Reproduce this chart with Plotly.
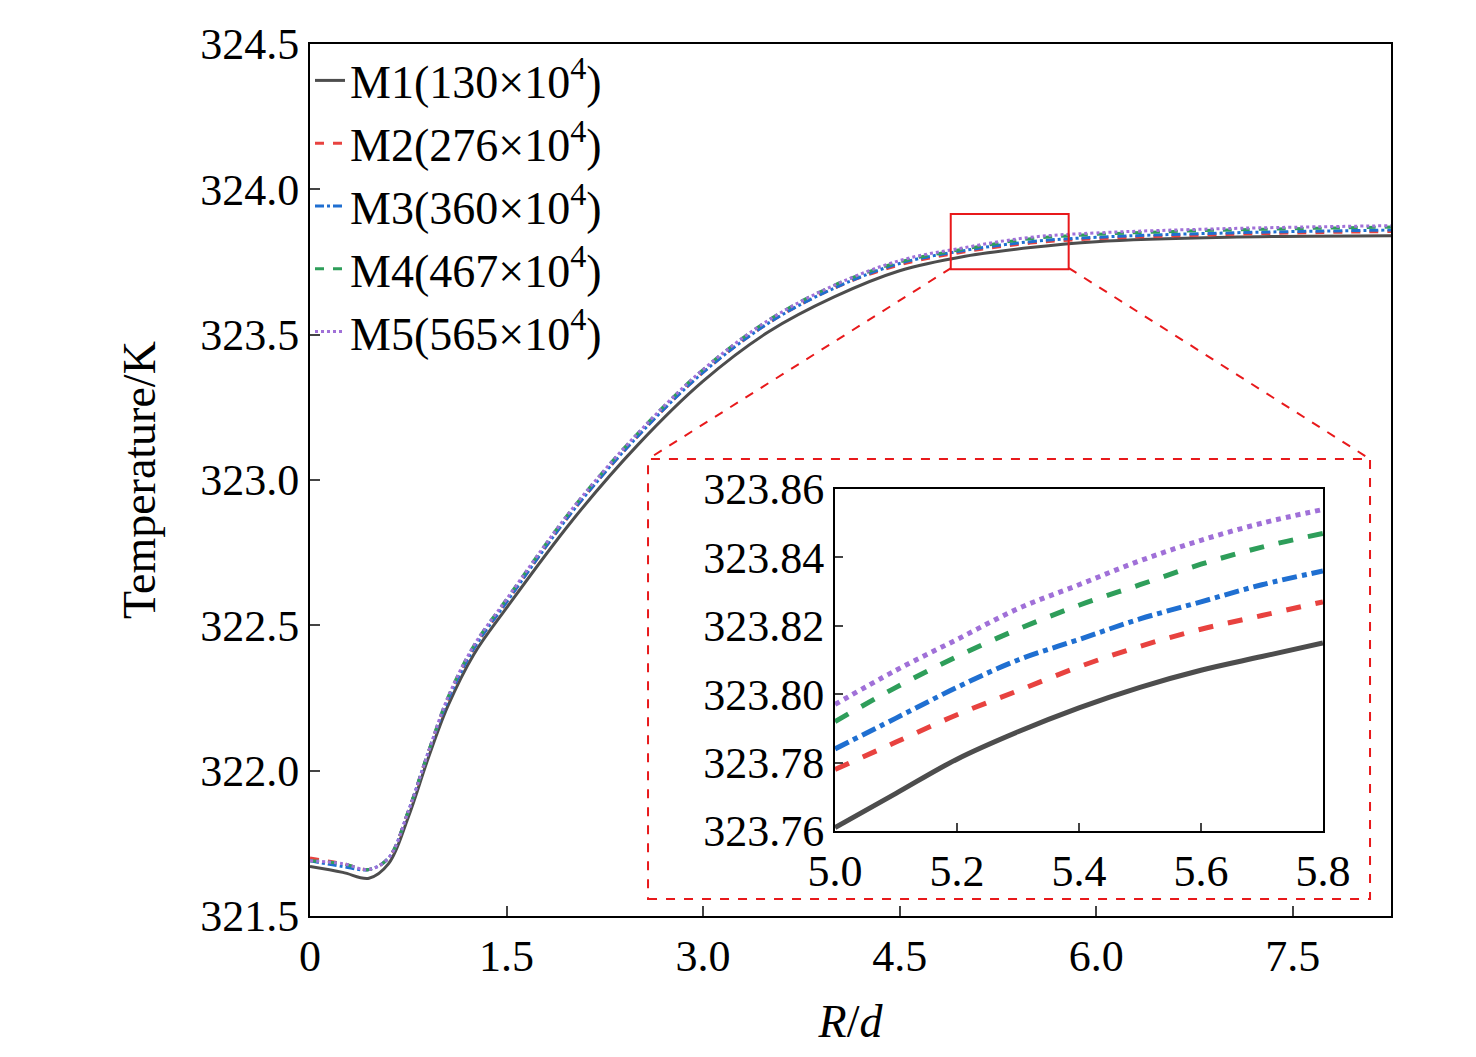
import plotly.graph_objects as go

# main plot data (R/d, temperature K)
x_main = [0, 0.25, 0.45, 0.6, 0.75, 0.9, 1.05, 1.25, 1.5, 2.0, 2.5, 3.0, 3.5, 4.0, 4.5, 5.0, 5.5, 6.0, 7.0, 8.25]
t_m1 = [321.67, 321.65, 321.63, 321.68, 321.84, 322.04, 322.22, 322.40, 322.56, 322.86, 323.12, 323.34, 323.51, 323.63, 323.72, 323.77, 323.80, 323.82, 323.835, 323.84]
t_m2 = [321.70, 321.68, 321.66, 321.70, 321.86, 322.06, 322.24, 322.42, 322.58, 322.89, 323.15, 323.37, 323.54, 323.66, 323.74, 323.785, 323.815, 323.83, 323.845, 323.855]
t_m3 = [321.69, 321.67, 321.66, 321.70, 321.86, 322.06, 322.24, 322.42, 322.58, 322.89, 323.15, 323.37, 323.54, 323.66, 323.745, 323.79, 323.82, 323.835, 323.85, 323.86]
t_m4 = [321.69, 321.68, 321.66, 321.70, 321.86, 322.06, 322.25, 322.43, 322.59, 322.90, 323.16, 323.38, 323.55, 323.67, 323.75, 323.795, 323.83, 323.845, 323.86, 323.87]
t_m5 = [321.69, 321.68, 321.66, 321.70, 321.86, 322.06, 322.25, 322.43, 322.59, 322.90, 323.16, 323.38, 323.55, 323.67, 323.755, 323.80, 323.835, 323.85, 323.865, 323.875]

# inset data (5.0 - 5.8)
x_zoom = [5.0, 5.1, 5.2, 5.3, 5.4, 5.5, 5.6, 5.7, 5.8]
z_m1 = [323.761, 323.771, 323.781, 323.789, 323.796, 323.802, 323.807, 323.811, 323.815]
z_m2 = [323.778, 323.786, 323.794, 323.801, 323.808, 323.814, 323.819, 323.823, 323.827]
z_m3 = [323.784, 323.793, 323.802, 323.810, 323.816, 323.822, 323.827, 323.832, 323.836]
z_m4 = [323.792, 323.802, 323.811, 323.819, 323.826, 323.832, 323.838, 323.843, 323.847]
z_m5 = [323.797, 323.807, 323.816, 323.825, 323.832, 323.839, 323.845, 323.850, 323.854]

names = ["M1(130×10<sup>4</sup>)", "M2(276×10<sup>4</sup>)", "M3(360×10<sup>4</sup>)",
         "M4(467×10<sup>4</sup>)", "M5(565×10<sup>4</sup>)"]
colors = ["#4d4d4d", "#e8423f", "#1f6fd1", "#2e9e5a", "#a070d8"]
dashes = ["solid", "dash", "dashdot", "dash", "dot"]

fig = go.Figure()
for name, y, c, d in zip(names, [t_m1, t_m2, t_m3, t_m4, t_m5], colors, dashes):
    fig.add_trace(go.Scatter(x=x_main, y=y, name=name, mode="lines",
                             line=dict(color=c, dash=d, width=3, shape="spline")))
for y, c, d in zip([z_m1, z_m2, z_m3, z_m4, z_m5], colors, dashes):
    fig.add_trace(go.Scatter(x=x_zoom, y=y, mode="lines", showlegend=False, xaxis="x2", yaxis="y2",
                             line=dict(color=c, dash=d, width=5, shape="spline")))

font = dict(family="Liberation Serif", size=44, color="black")
red = "#e8191b"
fig.update_layout(
    width=1476, height=1057, font=font,
    plot_bgcolor="white", paper_bgcolor="white",
    margin=dict(l=302, r=93, t=15, b=149),
    xaxis=dict(range=[0, 8.25], tickvals=[0, 1.5, 3.0, 4.5, 6.0, 7.5],
               ticktext=["0", "1.5", "3.0", "4.5", "6.0", "7.5"],
               ticks="inside", ticklen=10, tickwidth=2, showgrid=False, zeroline=False,
               showline=True, linecolor="black", linewidth=2, mirror=True,
               title=dict(text="<i>R</i>/<i>d</i>", font=dict(size=46), standoff=25)),
    yaxis=dict(range=[321.5, 324.5], dtick=0.5, tickformat=".1f",
               ticks="inside", ticklen=10, tickwidth=2, showgrid=False, zeroline=False,
               showline=True, linecolor="black", linewidth=2, mirror=True,
               title=dict(text="Temperature/K", font=dict(size=46), standoff=30)),
    xaxis2=dict(domain=[0.4857, 0.937], anchor="y2", range=[5.0, 5.8], dtick=0.2, tickformat=".1f",
                ticks="inside", ticklen=8, tickwidth=2, showgrid=False, zeroline=False,
                showline=True, linecolor="black", linewidth=2, mirror=True),
    yaxis2=dict(domain=[0.0975, 0.4897], anchor="x2", range=[323.76, 323.86], dtick=0.02, tickformat=".2f",
                ticks="inside", ticklen=8, tickwidth=2, showgrid=False, zeroline=False,
                showline=True, linecolor="black", linewidth=2, mirror=True),
    legend=dict(x=0.0, y=1.0, bgcolor="rgba(0,0,0,0)", font=dict(size=46), tracegroupgap=0),
    shapes=[
        dict(type="rect", xref="paper", yref="paper", x0=0.3127, x1=0.9806, y0=0.0195, y1=0.524,
             line=dict(color=red, width=2, dash="dash"), layer="below"),
        dict(type="rect", xref="x", yref="y", x0=4.89, x1=5.79, y0=323.725, y1=323.915,
             line=dict(color=red, width=2)),
        dict(type="line", xref="paper", yref="paper", x0=0.593, y0=0.743, x1=0.3127, y1=0.524,
             line=dict(color=red, width=2, dash="dash")),
        dict(type="line", xref="paper", yref="paper", x0=0.702, y0=0.743, x1=0.9806, y1=0.524,
             line=dict(color=red, width=2, dash="dash")),
    ],
)

fig.write_html("out.html")
